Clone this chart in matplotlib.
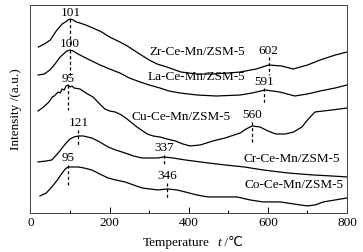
import numpy as np
import matplotlib
matplotlib.use("Agg")
import matplotlib.pyplot as plt
from matplotlib.ticker import MultipleLocator

plt.rcParams['font.family'] = ['Liberation Serif', 'DejaVu Sans']

# H2-TPR style traces (intensity in arbitrary units)
T_zr = [20, 35, 50, 65, 80, 88, 95, 101, 108, 116, 125, 140, 158, 180, 200, 226, 245, 260, 280, 300, 320, 345, 380,
        420, 460, 500, 530, 570, 602, 635, 664, 700, 732, 770, 800]
I_zr = [166, 169, 173, 182, 189, 191, 193, 194, 193, 191, 190, 188, 185, 181, 176, 171, 167, 163, 158, 153, 149, 146, 141,
        139, 139, 140, 141, 144, 148, 147, 144, 148, 153, 158, 161]

T_la = [19, 35, 49, 62, 75, 86, 92, 100, 108, 116, 125, 150, 176, 200, 226, 250, 277, 300, 327, 350, 378, 421, 470,
        530, 560, 593, 630, 668, 700, 732, 770, 800]
I_la = [138, 139, 143, 149, 156, 160, 162, 163, 162, 160, 158, 153, 148, 144, 140, 135, 131, 128, 125, 122, 120, 118, 117,
        118, 120, 123, 121, 117, 119, 122, 125, 128]

T_cu = [19, 30, 44, 50, 55, 60, 65, 70, 75, 80, 85, 90, 95, 100, 105, 110, 125, 140, 158, 175, 188, 200, 214, 230,
        244, 269, 295, 310, 327, 345, 366, 385, 403, 429, 461, 492, 530, 545, 560, 580, 600, 620, 644, 665, 686,
        700, 719, 740, 762, 800]
I_cu = [102, 105, 110, 113, 116, 117, 119, 121, 120, 124, 123, 127, 128, 126, 127, 125, 124, 120, 116, 109, 104, 102, 101, 98,
        94, 86, 79, 77, 76, 74, 72, 69, 67, 68, 72, 75, 80, 84, 87, 86, 82, 79, 79, 81, 86,
        93, 101, 102, 103, 105]

T_cr = [19, 40, 54, 70, 80, 90, 100, 110, 121, 133, 155, 175, 196, 215, 239, 260, 282, 300, 322, 337, 360, 391, 449,
        492, 540, 588, 650, 714, 760, 800]
I_cr = [51, 52, 53, 60, 65, 70, 74, 76, 77, 77, 75, 71, 66, 63, 60, 57, 55, 55, 55, 56, 55, 53, 50,
        48, 46, 43, 40, 38, 37, 36]

T_co = [24, 40, 54, 68, 80, 88, 95, 105, 120, 135, 155, 175, 196, 215, 239, 260, 282, 300, 322, 346, 370, 391, 420,
        449, 480, 522, 555, 588, 631, 665, 699, 720, 740, 770, 800]
I_co = [17, 20, 26, 33, 40, 44, 46, 46, 46, 45, 43, 39, 35, 33, 31, 28, 25, 24, 23, 24, 23, 21, 18,
        16, 16, 16, 13, 11, 11, 9, 7, 8, 11, 13, 15]

names = ["Zr-Ce-Mn/ZSM-5", "La-Ce-Mn/ZSM-5", "Cu-Ce-Mn/ZSM-5", "Cr-Ce-Mn/ZSM-5", "Co-Ce-Mn/ZSM-5"]
series = [(T_zr, I_zr), (T_la, I_la), (T_cu, I_cu), (T_cr, I_cr), (T_co, I_co)]

# peak markers: series index, temperature
peak_idx = [0, 0, 1, 1, 2, 2, 3, 3, 4, 4]
peak_T = [101, 602, 100, 591, 95, 560, 121, 337, 95, 346]

fig = plt.figure(figsize=(3.63, 2.52), dpi=100)
ax = fig.add_axes([0.084, 0.155, 0.872, 0.825])

for T, I in series:
    ax.plot(T, I, color="k", lw=0.9)

# dashed guide lines: how far above / below the curve they reach
dash_up = [0, 8, 0, 2, 0, 4, 6, 2, 2, 6]
dash_dn = [28, 10, 25, 13, 25, 16, 11, 8, 18, 9]
for k in range(len(peak_T)):
    T, I = series[peak_idx[k]]
    yc = np.interp(peak_T[k], T, I)
    top = yc + dash_up[k]
    ax.plot([peak_T[k], peak_T[k]], [top, yc - dash_dn[k]], color="k", lw=0.9, ls=(0, (2.5, 2)))
    ax.text(peak_T[k], top + 0.5, str(peak_T[k]), ha="center", va="bottom", fontsize=9.5)

# sample names (right edge, height)
name_x = [543, 543, 505, 783, 790]
name_y = [161, 136, 96, 54, 28]
for k in range(len(names)):
    ax.text(name_x[k], name_y[k], names[k], ha="right", va="center", fontsize=9.5)

ax.set_xlim(0, 800)
ax.set_ylim(0, 208)
ax.xaxis.set_major_locator(MultipleLocator(200))
ax.xaxis.set_minor_locator(MultipleLocator(100))
ax.tick_params(axis="x", which="major", direction="in", length=4, width=0.7, labelsize=9.5, pad=3)
ax.tick_params(axis="x", which="minor", direction="in", length=2.5, width=0.7)
ax.set_yticks([])
for s in ax.spines.values():
    s.set_linewidth(0.7)
    s.set_color("#444444")

# x label in pieces so the italic t and the ℃ sign both render
ax.text(0.355, -0.145, "Temperature", transform=ax.transAxes, ha="left", va="center", fontsize=9.5)
ax.text(0.589, -0.145, "t", transform=ax.transAxes, ha="left", va="center", fontsize=9.5, style="italic")
ax.text(0.603, -0.145, " /℃", transform=ax.transAxes, ha="left", va="center", fontsize=9.5)
ax.set_ylabel("Intensity /(a.u.)", fontsize=9.5, labelpad=6)

fig.savefig("out.png", dpi=100)
